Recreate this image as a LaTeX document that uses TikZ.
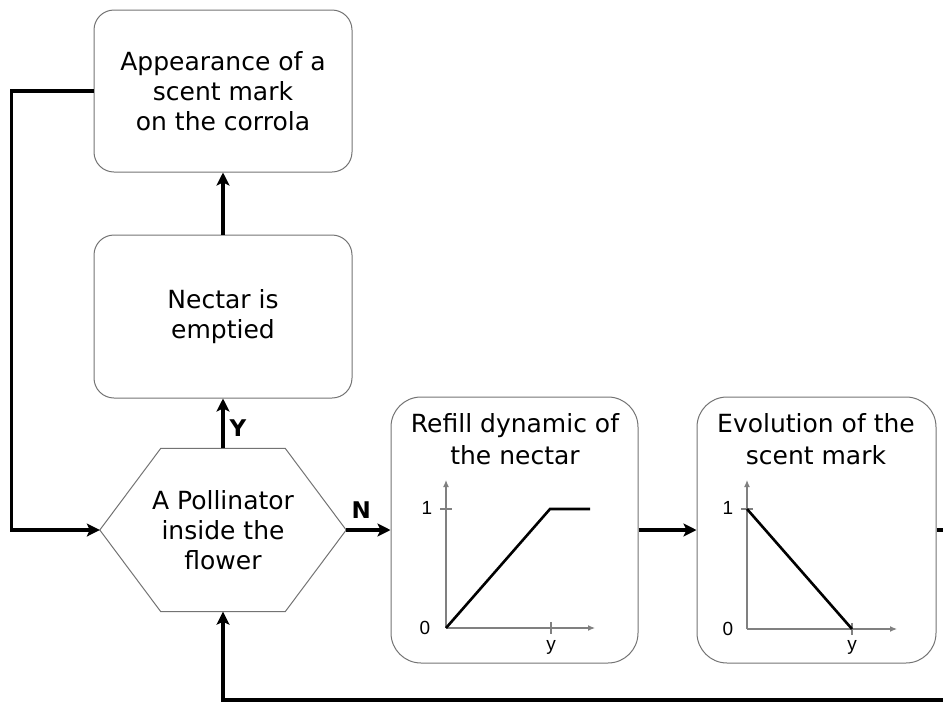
\documentclass[tikz,border=0pt]{standalone}
\usepackage{fontspec}
\setmainfont{DejaVu Sans}
\newfontfamily\axisfont{Liberation Sans}
\usetikzlibrary{arrows.meta,positioning}
\tikzset{
    %Define style for boxes
    box/.style={
        rectangle,
        rounded corners=20pt,
        draw=black!55, line width=1pt,
        align=center,
        font=\fontsize{25}{30}\selectfont,
        minimum width=258pt,
        minimum height=162pt,
    },
    plotbox/.style={
        rectangle,
        rounded corners=30pt,
        draw=black!55, line width=1pt,
        minimum height=266pt,
    },
    hexa/.style={
        draw=black!55, line width=1pt,
    },
    title/.style={
        align=center,
        inner sep=0pt,
        font=\fontsize{25}{32}\selectfont,
    },
    flow/.style={
        -{Stealth[length=13pt,width=13pt,inset=3pt]},
        line width=3.2pt,
    },
    axis/.style={
        -{Latex[length=7pt,width=6pt]},
        draw=black!50, line width=1.2pt,
    },
    tick/.style={
        draw=black!50, line width=1.2pt,
    },
    curve/.style={
        line width=2.6pt,
    },
    lbl/.style={
        inner sep=0pt,
        font=\axisfont\fontsize{19}{19}\selectfont,
    },
    yn/.style={
        inner sep=0pt,
        font=\bfseries\fontsize{23}{23}\selectfont,
    },
}
\begin{document}
\begin{tikzpicture}[x=1pt,y=-1pt]
	\useasboundingbox (0,0) rectangle (943,702);

	% left column
	\node[box] (mark) at (223,91) {Appearance of a\\scent mark\\on the corrola};
	\node[box, minimum height=163pt] (empty) at (223,316.5) {Nectar is\\emptied};
	\node[inner sep=0pt, minimum width=246pt, minimum height=163pt,
		align=center, font=\fontsize{25}{30}\selectfont] (poll) at (223,530) {A Pollinator\\inside the\\flower};
	\draw[hexa] (poll.west) -- ([xshift=61pt]poll.north west) -- ([xshift=-61pt]poll.north east)
		-- (poll.east) -- ([xshift=-61pt]poll.south east) -- ([xshift=61pt]poll.south west) -- cycle;

	% plot boxes
	\node[plotbox, minimum width=247pt] (refill) at (514.5,530) {};
	\node[plotbox, minimum width=239pt] (evol) at (816.5,530) {};
	\node[title] (refilltitle) at (515,439) {Refill dynamic of\\the nectar};
	\node[title] (evoltitle) at (816,439) {Evolution of the\\scent mark};

	% refill plot
	\draw[axis] (446,628) -- (446,480);
	\draw[axis] (446,628) -- (595,628);
	\draw[tick] (440,509) -- (452,509);
	\draw[tick] (551,622) -- (551,634);
	\draw[curve] (446,628) -- (550,509) -- (590,509);
	\node[lbl] (r0) at (425,628) {0};
	\node[lbl] (r1) at (427,508) {1};
	\node[lbl] (ry) at (551,647) {y};

	% scent mark plot
	\draw[axis] (747,629) -- (747,480);
	\draw[axis] (747,629) -- (897,629);
	\draw[tick] (741,509) -- (753,509);
	\draw[tick] (852,623) -- (852,635);
	\draw[curve] (747,509) -- (852,629);
	\node[lbl] (e0) at (728,629) {0};
	\node[lbl] (e1) at (728,508) {1};
	\node[lbl] (ey) at (852,647) {y};

	% connectors
	\draw[flow] (empty) -- (mark);
	\draw[flow] (poll) -- node[yn, right=5pt, yshift=-5pt] {Y} (empty);
	\draw[flow] (poll) -- node[yn, above=10pt, xshift=-7pt] {N} (refill);
	\draw[flow] (refill) -- (evol);
	\draw[flow] (mark.west) -- ++(-82,0) |- (poll.west);
	\draw[flow] (evol.east) -- ++(30,0) -- ++(0,170) -| (poll.south);
\end{tikzpicture}
\end{document}
